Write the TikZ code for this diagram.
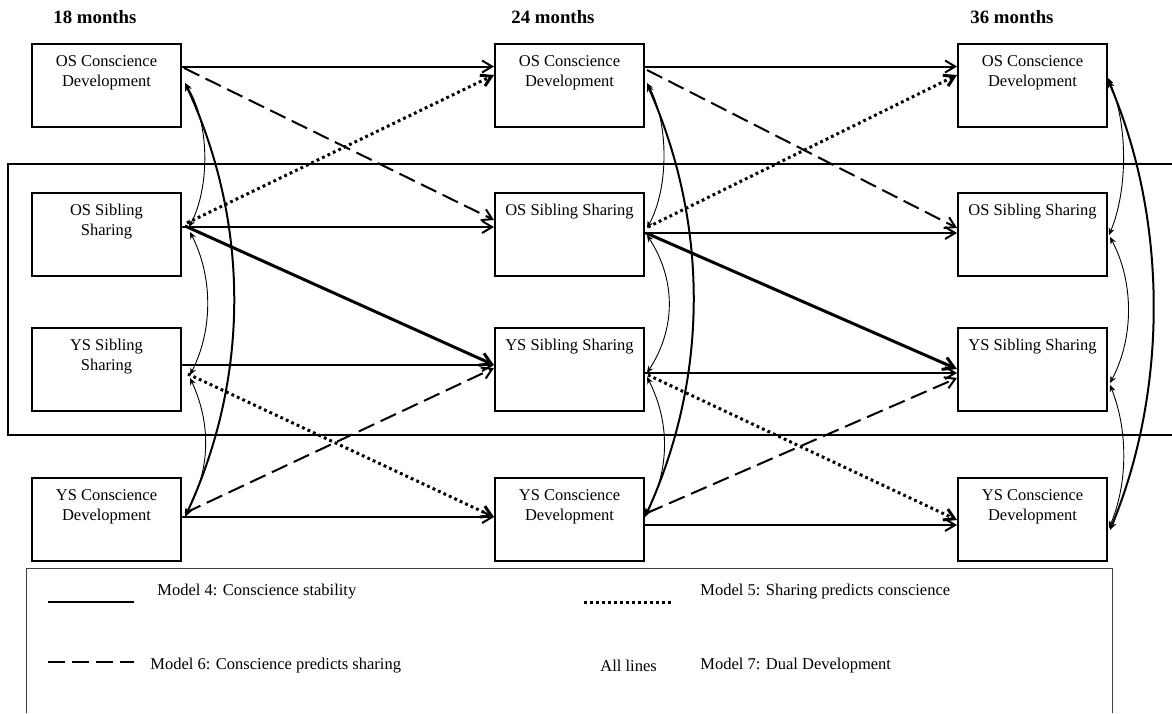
\documentclass[tikz,border=0pt]{standalone}
\usepackage{fontspec}
\setmainfont{Liberation Serif}
\usetikzlibrary{arrows.meta,calc}
\newcommand\boxtxt[1]{\parbox[c][41.5pt][t]{74.5pt}{\centering\vspace*{4.3pt}\strut #1}}
\tikzset{
  box/.style={draw, line width=1pt, minimum width=74.5pt, minimum height=41.5pt, inner sep=0pt, anchor=north west, font=\fontsize{8.25}{10}\selectfont},
  hdr/.style={font=\fontsize{9.4}{11}\selectfont\bfseries, inner sep=0pt},
  legtxt/.style={font=\fontsize{8.25}{10}\selectfont, inner sep=0pt, anchor=west},
  arr/.style={line width=1pt, -{Straight Barb[length=5pt,width=6pt]}},
  thickarr/.style={line width=1.5pt, -{Straight Barb[length=5.5pt,width=6.5pt]}},
  dashedarr/.style={arr, dash pattern=on 8.5pt off 3.5pt},
  dottedarr/.style={line width=1.5pt, dash pattern=on 1.4pt off 1.6pt, -{Straight Barb[length=5pt,width=6pt]}},
  cov/.style={line width=0.45pt, {Stealth[length=3.5pt,width=3pt]}-{Stealth[length=3.5pt,width=3pt]}},
  covthick/.style={line width=1pt, {Stealth[length=4pt,width=3.5pt]}-{Stealth[length=4pt,width=3.5pt]}},
  frame/.style={line width=0.8pt},
  legframe/.style={line width=0.5pt, draw=black!75}
}
\begin{document}
\begin{tikzpicture}[x=0.5pt,y=-0.5pt]
\useasboundingbox (0,0) rectangle (1172,713);

% headers
\node[hdr] (h1) at (95,17) {18 months};
\node[hdr] (h2) at (553,17) {24 months};
\node[hdr] (h3) at (1012,17) {36 months};

% sharing frame
\draw[frame] (1172,164) -- (8,164) -- (8,435) -- (1172,435);

% boxes column 1
\node[box] (a1) at (31,43) {\boxtxt{OS Conscience\\Development}};
\node[box] (a2) at (31,192) {\boxtxt{OS Sibling\\Sharing}};
\node[box] (a3) at (31,327) {\boxtxt{YS Sibling\\Sharing}};
\node[box] (a4) at (31,477) {\boxtxt{YS Conscience\\Development}};
% column 2
\node[box] (b1) at (494,43) {\boxtxt{OS Conscience\\Development}};
\node[box] (b2) at (494,192) {\boxtxt{OS Sibling Sharing}};
\node[box] (b3) at (494,327) {\boxtxt{YS Sibling Sharing}};
\node[box] (b4) at (494,477) {\boxtxt{YS Conscience\\Development}};
% column 3
\node[box] (c1) at (957,43) {\boxtxt{OS Conscience\\Development}};
\node[box] (c2) at (957,192) {\boxtxt{OS Sibling Sharing}};
\node[box] (c3) at (957,327) {\boxtxt{YS Sibling Sharing}};
\node[box] (c4) at (957,477) {\boxtxt{YS Conscience\\Development}};

% column 1 -> column 2
\draw[arr] ($(a1.north east)+(0,23.5)$) -- ($(b1.north west)+(0,23.5)$);
\draw[dashedarr] ($(a1.north east)+(2,25)$) -- ($(b2.north west)+(0,28)$);
\draw[dottedarr] ($(a2.north east)+(5,31)$) -- ($(b1.north west)+(0,32)$);
\draw[arr] ($(a2.north east)+(0,35)$) -- ($(b2.north west)+(0,35)$);
\draw[thickarr] ($(a2.north east)+(3,34)$) -- ($(b3.north west)+(0,38)$);
\draw[arr] ($(a3.north east)+(0,38)$) -- ($(b3.north west)+(0,38)$);
\draw[dottedarr] ($(a3.north east)+(6,47)$) -- ($(b4.north west)+(0,40)$);
\draw[dashedarr] ($(a4.north east)+(3,36)$) -- ($(b3.north west)+(0,41)$);
\draw[arr] ($(a4.north east)+(0,40)$) -- ($(b4.north west)+(0,40)$);

% column 2 -> column 3
\draw[arr] ($(b1.north east)+(0,23.5)$) -- ($(c1.north west)+(0,23.5)$);
\draw[dashedarr] ($(b1.north east)+(2,27)$) -- ($(c2.north west)+(0,36)$);
\draw[dottedarr] ($(b2.north east)+(3,35)$) -- ($(c1.north west)+(0,32)$);
\draw[arr] ($(b2.north east)+(0,41)$) -- ($(c2.north west)+(0,41)$);
\draw[thickarr] ($(b2.north east)+(1,41)$) -- ($(c3.north west)+(0,42)$);
\draw[arr] ($(b3.north east)+(0,46)$) -- ($(c3.north west)+(0,46)$);
\draw[dottedarr] ($(b3.north east)+(3,48)$) -- ($(c4.north west)+(0,43)$);
\draw[dashedarr] ($(b4.north east)+(2,36)$) -- ($(c3.north west)+(0,51)$);
\draw[arr] ($(b4.north east)+(0,48)$) -- ($(c4.north west)+(0,48)$);

% covariances column 1
\draw[cov] ($(a1.north east)+(3,40)$) .. controls +(25,40) and +(21,-40) .. ($(a2.north east)+(7,35)$);
\draw[cov] ($(a2.north east)+(8,40)$) .. controls +(23,45) and +(23,-45) .. ($(a3.north east)+(8,48)$);
\draw[cov] ($(a3.north east)+(8,51)$) .. controls +(21,45) and +(26,-45) .. ($(a4.north east)+(3,38)$);
\draw[covthick] ($(a1.north east)+(3,40)$) .. controls +(65,140) and +(65,-140) .. ($(a4.north east)+(3,40)$);

% covariances column 2
\draw[cov] ($(b1.north east)+(2,40)$) .. controls +(22,40) and +(22,-40) .. ($(b2.north east)+(2,36)$);
\draw[cov] ($(b2.north east)+(2,43)$) .. controls +(29,45) and +(29,-45) .. ($(b3.north east)+(2,46)$);
\draw[cov] ($(b3.north east)+(2,50)$) .. controls +(23,45) and +(25,-45) .. ($(b4.north east)+(0,38)$);
\draw[covthick] ($(b1.north east)+(2,41)$) .. controls +(62,140) and +(64,-140) .. ($(b4.north east)+(0,40)$);

% covariances column 3
\draw[cov] ($(c1.north east)+(0,35)$) .. controls +(20,45) and +(19,-45) .. ($(c2.north east)+(1,43)$);
\draw[cov] ($(c2.north east)+(2,45)$) .. controls +(24,45) and +(24,-45) .. ($(c3.north east)+(2,56)$);
\draw[cov] ($(c3.north east)+(2,58)$) .. controls +(18,45) and +(19,-45) .. ($(c4.north east)+(1,51)$);
\draw[covthick] ($(c1.north east)+(0,37)$) .. controls +(60,140) and +(58,-140) .. ($(c4.north east)+(2,53)$);

% legend
\draw[legframe] (26,713) -- (26,568) -- (1112,568) -- (1112,713);
\coordinate (s1) at (48,602); \coordinate (s2) at (134,602);
\coordinate (d1) at (48,662); \coordinate (d2) at (134,662);
\coordinate (p1) at (584,602); \coordinate (p2) at (672,602);
\draw[line width=1pt] (s1) -- (s2);
\draw[line width=1pt, dash pattern=on 8.5pt off 3.5pt] (d1) -- (d2);
\draw[line width=1.5pt, dash pattern=on 1.4pt off 1.6pt] (p1) -- (p2);
\node[legtxt] (l4) at (157,592) {Model 4: Conscience stability};
\node[legtxt] (l6) at (150,666) {Model 6: Conscience predicts sharing};
\node[legtxt] (l5) at (700,592) {Model 5: Sharing predicts conscience};
\node[legtxt] (la) at (600,666) {All lines};
\node[legtxt] (l7) at (700,666) {Model 7: Dual Development};
\end{tikzpicture}
\end{document}
